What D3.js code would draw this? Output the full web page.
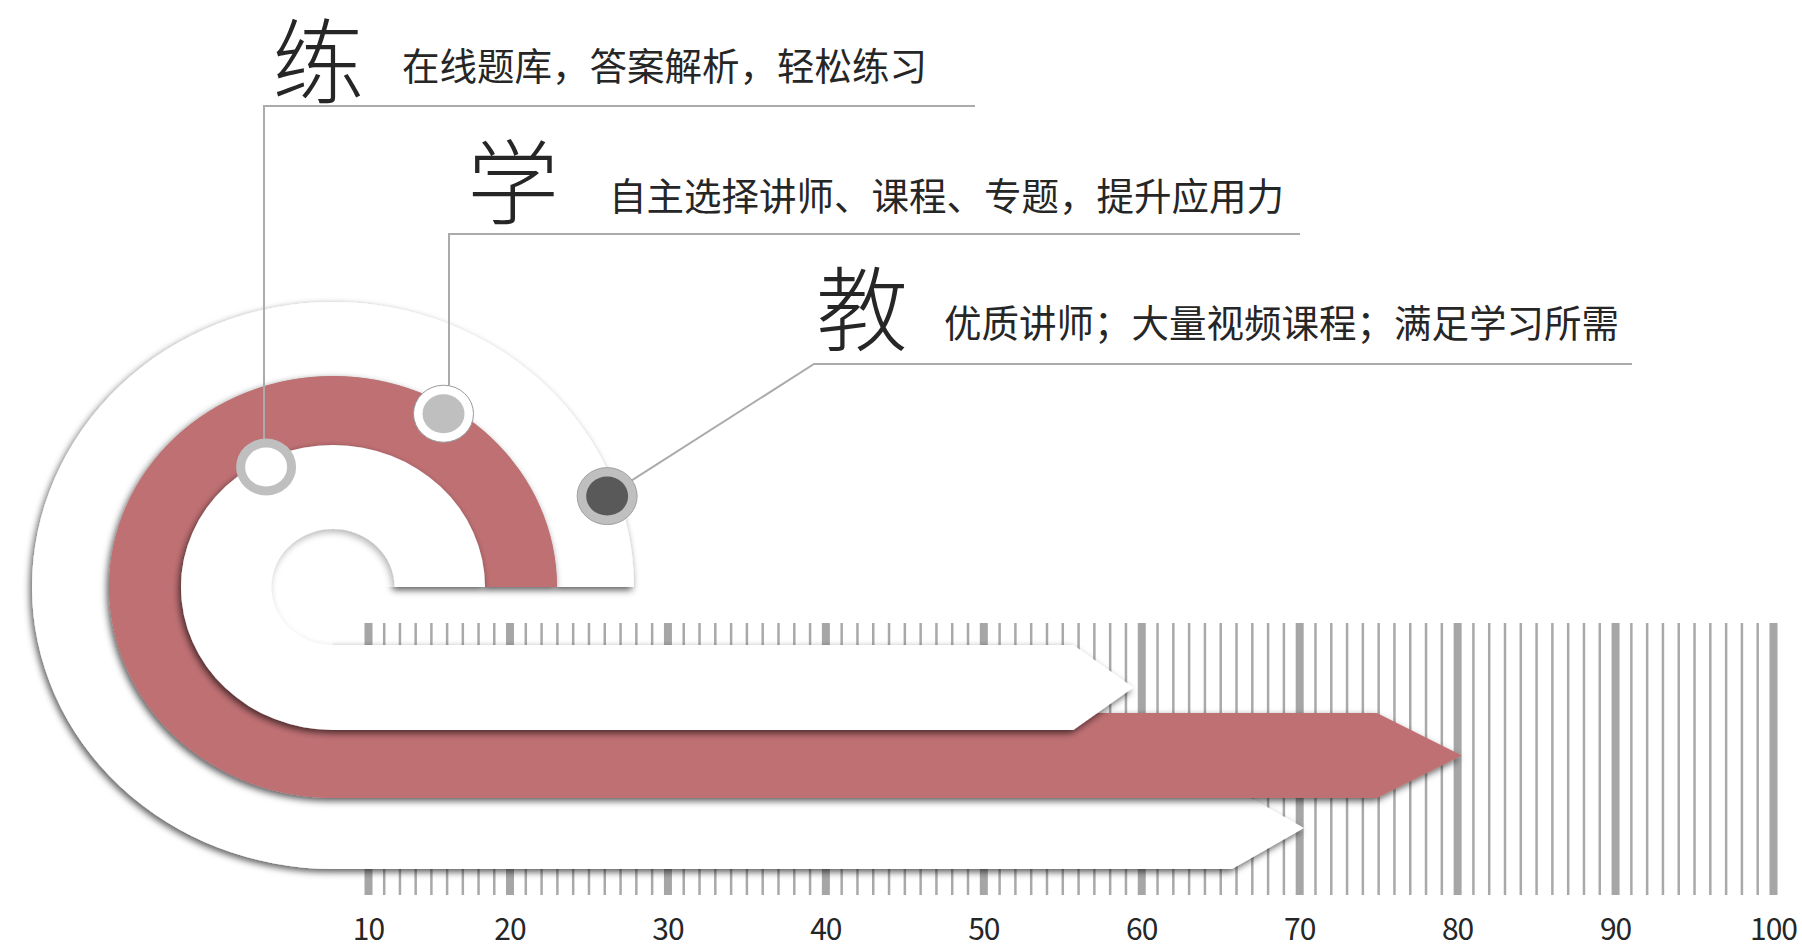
<!DOCTYPE html>
<html>
<head>
<meta charset="utf-8">
<script src="https://cdn.jsdelivr.net/npm/d3@7"></script>
<style>
  html, body { margin: 0; padding: 0; background: #fff; overflow: hidden; }
</style>
</head>
<body>
<script>
// Data
let heads = ['练', '学', '教']
let notes = [
  '在线题库，答案解析，轻松练习',
  '自主选择讲师、课程、专题，提升应用力',
  '优质讲师；大量视频课程；满足学习所需'
]
let arrowValues = [59.5, 80.3, 70.3]   // where each arrow tip points on the ruler (练, 学, 教)
let tickLabels = [10, 20, 30, 40, 50, 60, 70, 80, 90, 100]

let
  width = 1802,
  height = 948;

let svg = d3.select('body')
            .append('svg')
            .attr('width', width)
            .attr('height', height)
            .style('background', '#fff')

let defs = svg.append('defs')
defs.append('filter')
    .attr('id', 'shadow')
    .attr('x', '-20%').attr('y', '-20%').attr('width', '140%').attr('height', '140%')
  .append('feDropShadow')
    .attr('dx', -2).attr('dy', 3)
    .attr('stdDeviation', 3.5)
    .attr('flood-color', '#000')
    .attr('flood-opacity', 0.65)

// ruler scale - the first block (10-20) is a little shorter than the others
let xScale = d3.scaleLinear()
              .domain([10, 20, 100])
              .range([368, 509.5, 1773])

let rulerTop = 623, rulerHeight = 272

let minorTicks = d3.range(1, 9).map(k => 10 + k * 10 / 9)
                   .concat(d3.range(21, 100).filter(v => v % 10 != 0))

let minorAxis = svg.append('g')
            .attr('transform', `translate(0, ${rulerTop})`)
            .call(d3.axisBottom(xScale).tickValues(minorTicks).tickSize(rulerHeight).tickFormat(''))
minorAxis.select('.domain').remove()
minorAxis.selectAll('line').attr('stroke', '#a9a9a9').attr('stroke-width', 2.5)

let majorAxis = svg.append('g')
            .attr('transform', `translate(0, ${rulerTop})`)
            .call(d3.axisBottom(xScale).tickValues(tickLabels).tickSize(rulerHeight).tickPadding(24))
majorAxis.select('.domain').remove()
majorAxis.selectAll('line').attr('stroke', '#a6a6a6').attr('stroke-width', 8)
majorAxis.selectAll('text')
         .attr('fill', '#262626')
         .style('font-family', '"Noto Sans CJK SC", "Noto Sans", sans-serif')
         .style('font-weight', 400)
         .style('font-size', '30px')
         .style('letter-spacing', '-1px')

// Spiral bands: outer white (教), red (学), inner white (练)
let cx = 333, cy = 587
let layers = [
  {idx: 2, fill: '#ffffff', rxO: 301, ryO: 285, bottom: 869, rxI: 224, ryI: 211, top: 787, head: 72},
  {idx: 1, fill: '#bf7073', rxO: 224, ryO: 211, bottom: 798, rxI: 152, ryI: 142, top: 713, head: 85},
  {idx: 0, fill: '#ffffff', rxO: 152, ryO: 142, bottom: 730, rxI: 61.5, ryI: 58, top: 645, head: 60}
]

function bandPath(l) {
  let tip = xScale(arrowValues[l.idx])
  let start = tip - l.head
  let mid = (l.top + l.bottom) / 2
  let ryOB = l.bottom - cy, ryIB = l.top - cy
  return `M${cx + l.rxO},${cy}` +
    `A${l.rxO},${l.ryO} 0 0 0 ${cx - l.rxO},${cy}` +
    `A${l.rxO},${ryOB} 0 0 0 ${cx},${l.bottom}` +
    `L${start},${l.bottom}L${tip},${mid}L${start},${l.top}L${cx},${l.top}` +
    `A${l.rxI},${ryIB} 0 0 1 ${cx - l.rxI},${cy}` +
    `A${l.rxI},${l.ryI} 0 0 1 ${cx + l.rxI},${cy}Z`
}

svg.selectAll('path.band')
   .data(layers)
   .enter()
   .append('path')
   .attr('class', 'band')
   .attr('d', bandPath)
   .attr('fill', d => d.fill)
   .attr('filter', 'url(#shadow)')

// soften the shadow that falls inside the small hole
svg.append('path')
   .attr('d', `M${cx + 61.5},${cy}A61.5,58 0 0 0 ${cx - 61.5},${cy}A61.5,58 0 0 0 ${cx},${cy + 58}L${cx},${cy}Z`)
   .attr('fill', '#fff')
   .attr('opacity', 0.55)

// markers sit on the band edges, leader lines run up to the captions
let markers = [
  {rx: 152, ry: 142, t: 242.5, s: 0.953, ring: '#bfbfbf', dot: '#ffffff', edge: 'none'},
  {rx: 224, ry: 211, t: 301, s: 0.958, ring: '#ffffff', dot: '#bfbfbf', edge: '#9a9a9a'},
  {rx: 301, ry: 285, t: 340.7, s: 0.965, ring: '#bfbfbf', dot: '#595959', edge: '#a0a0a0'}
]
markers.forEach(m => {
  let a = m.t * Math.PI / 180
  m.x = cx + m.s * m.rx * Math.cos(a)
  m.y = cy + m.s * m.ry * Math.sin(a)
})

let leaderX = [264, 449, 814]
let leaderY = [106, 234, 364]
let leaderEnd = [975, 1300, 1632]

svg.selectAll('path.leader')
   .data(markers)
   .enter()
   .append('path')
   .attr('class', 'leader')
   .attr('d', (m, i) => {
     let sx = Math.abs(leaderX[i] - m.x) < 10 ? leaderX[i] : m.x
     return `M${sx},${m.y}L${leaderX[i]},${leaderY[i]}L${leaderEnd[i]},${leaderY[i]}`
   })
   .attr('fill', 'none')
   .attr('stroke', '#ababab')
   .attr('stroke-width', 2)

svg.selectAll('ellipse.ring')
   .data(markers)
   .enter()
   .append('ellipse')
   .attr('class', 'ring')
   .attr('cx', d => d.x).attr('cy', d => d.y)
   .attr('rx', 30).attr('ry', 28.5)
   .attr('fill', d => d.ring)
   .attr('stroke', d => d.edge)
   .attr('stroke-width', 1)

svg.selectAll('ellipse.dot')
   .data(markers)
   .enter()
   .append('ellipse')
   .attr('class', 'dot')
   .attr('cx', d => d.x).attr('cy', d => d.y)
   .attr('rx', 21).attr('ry', 19.5)
   .attr('fill', d => d.dot)

// Captions
let headX = [272, 467, 816], headY = [96, 217, 344]
let noteX = [402, 609, 944], noteY = [80, 210, 337]

svg.selectAll('text.head')
   .data(heads)
   .enter()
   .append('text')
   .attr('class', 'head')
   .attr('x', (d, i) => headX[i])
   .attr('y', (d, i) => headY[i])
   .text(d => d)
   .attr('fill', '#262626')
   .style('font-family', '"Noto Sans CJK SC", sans-serif')
   .style('font-weight', 300)
   .style('font-size', '92px')

svg.selectAll('text.note')
   .data(notes)
   .enter()
   .append('text')
   .attr('class', 'note')
   .attr('x', (d, i) => noteX[i])
   .attr('y', (d, i) => noteY[i])
   .text(d => d)
   .attr('fill', '#262626')
   .style('font-family', '"Noto Sans CJK SC", sans-serif')
   .style('font-weight', 400)
   .style('font-size', '37.5px')
</script>
</body>
</html>
